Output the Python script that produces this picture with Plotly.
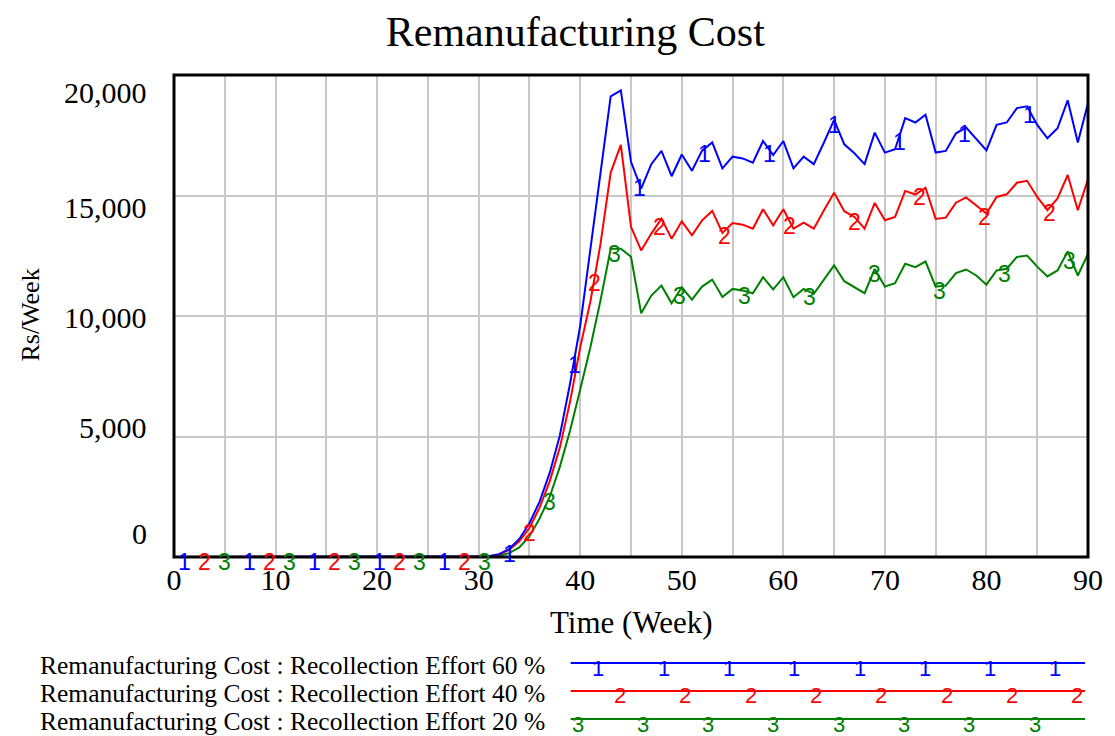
import numpy as np
import plotly.graph_objects as go

# Simulation time axis (weeks)
weeks = list(range(0, 91))

# Remanufacturing cost (Rs/Week) for three recollection effort scenarios
flat = [0] * 31  # weeks 0..30
cost_60 = flat + [
    30, 120, 330, 750, 1400, 2300, 3500, 5050, 7200, 9600,
    12700, 15900, 19110, 19360, 16400, 15290, 16300, 16850, 15800, 16700,
    16030, 16860, 17200, 16125, 16610, 16540, 16360, 17260, 16680, 17260,
    16125, 16610, 16300, 17200, 18140, 17125, 16750, 16300, 17610, 16780,
    16920, 18210, 18030, 18350, 16780, 16850, 17580, 17820, 17330, 16870,
    17930, 18030, 18625, 18700, 17930, 17375, 17790, 18950, 17200, 18830,
]
cost_40 = flat + [
    25, 100, 290, 650, 1200, 2050, 3150, 4550, 6450, 8700,
    10600, 13000, 15950, 17100, 13700, 12720, 13420, 14040, 13210, 13930,
    13350, 13970, 14360, 13450, 13860, 13790, 13625, 14430, 13760, 14430,
    13625, 13875, 13625, 14390, 15110, 14350, 14110, 13625, 14690, 13970,
    14110, 15190, 15040, 15320, 14030, 14080, 14700, 14920, 14600, 14250,
    14940, 15050, 15530, 15610, 14940, 14390, 14875, 15850, 14390, 15670,
]
cost_20 = flat + [
    15, 50, 160, 400, 850, 1600, 2500, 3750, 5250, 6950,
    8700, 10650, 12790, 12790, 12460, 10110, 10850, 11260, 10530, 11190,
    10680, 11220, 11510, 10790, 11125, 11055, 10945, 11610, 11100, 11610,
    10780, 11125, 10920, 11510, 12100, 11445, 11195, 10945, 11950, 11220,
    11360, 12170, 12030, 12260, 11220, 11260, 11780, 11930, 11680, 11300,
    11890, 11960, 12450, 12510, 12050, 11640, 11890, 12680, 11680, 12580,
]

series_names = [
    "Remanufacturing Cost : Recollection Effort 60 %",
    "Remanufacturing Cost : Recollection Effort 40 %",
    "Remanufacturing Cost : Recollection Effort 20 %",
]
series_ids = ["1", "2", "3"]
series_colors = ["#0000FF", "#FF0000", "#008000"]
series_values = [cost_60, cost_40, cost_20]

x_ticks = list(range(0, 91, 10))
y_ticks = [0, 5000, 10000, 15000, 20000]

SERIF = "Liberation Serif"
SANS = "Liberation Sans"

# plot frame in pixels
W, H = 1115, 736
L, R, T, B = 174, 1098, 75, 557
pw, ph = R - L, B - T


def px_x(px):
    return (px - L) / pw


def px_y(py):
    return (B - py) / ph


fig = go.Figure()

# draw green first so that blue ends up on top
for name, vals, col in list(zip(series_names, series_values, series_colors))[::-1]:
    fig.add_trace(go.Scatter(
        x=weeks, y=vals, mode="lines", name=name,
        line=dict(color=col, width=2), showlegend=False,
        hoverinfo="x+y",
    ))

annotations = []

# numbered identifiers sprinkled along each curve
mark_start = [1.0, 3.0, 5.0]
mark_step = 6.4
for sid, vals, col, t0 in zip(series_ids, series_values, series_colors, mark_start):
    tm = np.arange(t0, 90.01, mark_step)
    ym = np.interp(tm, weeks, vals)
    for t, v in zip(tm, ym):
        annotations.append(dict(
            x=float(t), y=float(v), xref="x", yref="y", text=sid,
            showarrow=False, yshift=-5,
            font=dict(family=SANS, size=23, color=col),
        ))

# y tick labels, spread the way the simulator lays them out
label_py = [533, 427, 317, 207, 93]
for v, py in zip(y_ticks, label_py):
    annotations.append(dict(
        x=px_x(149), y=px_y(py), xref="paper", yref="paper",
        text=f"{v:,}", showarrow=False, xanchor="right", yanchor="middle",
        font=dict(family=SERIF, size=30, color="black"),
    ))

# axis titles
annotations.append(dict(
    x=px_x(637), y=px_y(622), xref="paper", yref="paper", text="Time (Week)",
    showarrow=False, xanchor="center", yanchor="middle",
    font=dict(family=SERIF, size=31, color="black"),
))
annotations.append(dict(
    x=px_x(28), y=px_y(315), xref="paper", yref="paper", text="Rs/Week",
    showarrow=False, textangle=-90, xanchor="center", yanchor="middle",
    font=dict(family=SERIF, size=26, color="black"),
))

# legend block beneath the chart
shapes = []
row_py = [663, 691, 719]
line_x0, line_x1 = 575, 1095
legend_mark_x0 = [603, 625, 582]
legend_mark_dx = 66
for name, sid, col, py, mx0 in zip(series_names, series_ids, series_colors, row_py, legend_mark_x0):
    annotations.append(dict(
        x=px_x(551), y=px_y(py + 2), xref="paper", yref="paper", text=name,
        showarrow=False, xanchor="right", yanchor="middle",
        font=dict(family=SERIF, size=25.5, color="black"),
    ))
    shapes.append(dict(
        type="line", xref="paper", yref="paper",
        x0=px_x(line_x0), x1=px_x(line_x1), y0=px_y(py), y1=px_y(py),
        line=dict(color=col, width=2),
    ))
    for k in range(8):
        annotations.append(dict(
            x=px_x(mx0 + k * legend_mark_dx), y=px_y(py + 5), xref="paper", yref="paper",
            text=sid, showarrow=False, xanchor="center", yanchor="middle",
            font=dict(family=SANS, size=22, color=col),
        ))

# heavy frame around the plotting area
shapes.append(dict(
    type="rect", xref="paper", yref="paper", x0=0, x1=1, y0=0, y1=1,
    line=dict(color="black", width=3), layer="above",
))

fig.update_layout(
    width=W, height=H,
    margin=dict(l=L, r=W - R, t=T, b=H - B, pad=0),
    paper_bgcolor="white", plot_bgcolor="white",
    title=dict(
        text="Remanufacturing Cost", x=0.516, xanchor="center",
        y=1 - 31 / H, yanchor="middle",
        font=dict(family=SERIF, size=42, color="black"),
    ),
    xaxis=dict(
        range=[0, 90], tickvals=x_ticks, ticktext=[str(v) for v in x_ticks],
        showgrid=True, gridcolor="#C8C8C8", gridwidth=2,
        minor=dict(dtick=5, showgrid=True, gridcolor="#C8C8C8", gridwidth=2),
        zeroline=False, showline=False, ticks="",
        tickfont=dict(family=SERIF, size=30, color="black"),
        ticklabelstandoff=2,
    ),
    yaxis=dict(
        range=[0, 20000], tickvals=y_ticks, showticklabels=False,
        showgrid=True, gridcolor="#C8C8C8", gridwidth=2,
        zeroline=False, showline=False, ticks="",
    ),
    annotations=annotations,
    shapes=shapes,
    showlegend=False,
)

fig.write_html("out.html")
